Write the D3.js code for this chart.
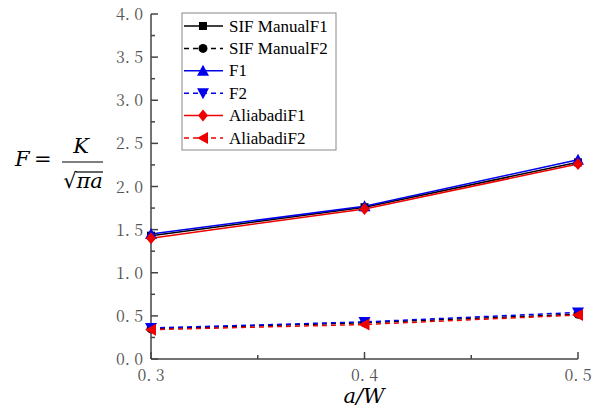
<!DOCTYPE html>
<html><head><meta charset="utf-8">
<script src="https://cdn.jsdelivr.net/npm/d3@7"></script>
<style>body{margin:0;background:#fff}</style>
</head><body><svg id="c" width="603" height="410"></svg>
<script>
const xValues = [0.3, 0.4, 0.5];
const sifManualF1 = [1.43, 1.76, 2.28];
const sifManualF2 = [0.35, 0.42, 0.52];
const f1 = [1.45, 1.77, 2.31];
const f2 = [0.36, 0.43, 0.54];
const aliabadiF1 = [1.40, 1.74, 2.26];
const aliabadiF2 = [0.34, 0.40, 0.51];
const seriesNames = ["SIF ManualF1","SIF ManualF2","F1","F2","AliabadiF1","AliabadiF2"];
const xTicks = [0.3, 0.4, 0.5];
const yTicks = [0.0,0.5,1.0,1.5,2.0,2.5,3.0,3.5,4.0];

const series = [
  {name:seriesNames[0], v:sifManualF1, color:"#000", dash:null, sym:"square"},
  {name:seriesNames[1], v:sifManualF2, color:"#000", dash:"5,4", sym:"circle"},
  {name:seriesNames[2], v:f1, color:"#0000ee", dash:null, sym:"up"},
  {name:seriesNames[3], v:f2, color:"#0000ee", dash:"5,4", sym:"down"},
  {name:seriesNames[4], v:aliabadiF1, color:"#ee0000", dash:null, sym:"diamond"},
  {name:seriesNames[5], v:aliabadiF2, color:"#ee0000", dash:"5,4", sym:"left"}
];

const TICKFONT = "Noto Serif CJK SC";
const LEGFONT = "Liberation Serif";
const MATHFONT = "DejaVu Serif";

const svg = d3.select("#c");
const x = d3.scaleLinear().domain([0.3,0.5]).range([151,578]);
const y = d3.scaleLinear().domain([0,4]).range([359,14]);

function marker(g, sym, cx, cy, color){
  const s = 5;
  let el;
  if(sym==="square") el = g.append("rect").attr("x",cx-4).attr("y",cy-4).attr("width",8).attr("height",8);
  else if(sym==="circle") el = g.append("circle").attr("cx",cx).attr("cy",cy).attr("r",4.5);
  else {
    let pts;
    if(sym==="up") pts=[[0,-s-1],[s+1,s],[-s-1,s]];
    if(sym==="down") pts=[[0,s+1],[s+1,-s],[-s-1,-s]];
    if(sym==="diamond") pts=[[0,-s-1],[s,0],[0,s+1],[-s,0]];
    if(sym==="left") pts=[[-s-1,0],[s,-s-1],[s,s+1]];
    el = g.append("polygon").attr("points", pts.map(p=>[cx+p[0],cy+p[1]].join(",")).join(" "));
  }
  el.attr("fill",color);
}

// axes
const gx = svg.append("g").attr("transform","translate(0,359)");
gx.append("line").attr("x1",151).attr("x2",578).attr("stroke","#444").attr("stroke-width",1.5);
xTicks.forEach(t=>{
  gx.append("line").attr("x1",x(t)).attr("x2",x(t)).attr("y1",0).attr("y2",-7).attr("stroke","#444").attr("stroke-width",1.5);
  gx.append("text").attr("font-family",TICKFONT).attr("x",x(t)).attr("y",22).attr("text-anchor","middle")
    .attr("font-size",16).attr("fill","#555").text(t.toFixed(1).replace(".",". "));
});
[0.35,0.45].forEach(t=>{
  gx.append("line").attr("x1",x(t)).attr("x2",x(t)).attr("y1",0).attr("y2",-4).attr("stroke","#444").attr("stroke-width",1.5);
});
const gy = svg.append("g");
gy.append("line").attr("x1",151).attr("x2",151).attr("y1",14).attr("y2",359).attr("stroke","#444").attr("stroke-width",1.5);
yTicks.forEach(t=>{
  gy.append("line").attr("x1",151).attr("x2",158).attr("y1",y(t)).attr("y2",y(t)).attr("stroke","#444").attr("stroke-width",1.5);
  gy.append("text").attr("font-family",TICKFONT).attr("x",143).attr("y",y(t)+6).attr("text-anchor","end")
    .attr("font-size",16).attr("fill","#555").text(t.toFixed(1).replace(".",". "));
});
d3.range(0.25,4,0.5).forEach(t=>{
  gy.append("line").attr("x1",151).attr("x2",155).attr("y1",y(t)).attr("y2",y(t)).attr("stroke","#444").attr("stroke-width",1.5);
});

// lines
const line = d3.line().x((d,i)=>x(xValues[i])).y(d=>y(d));
series.forEach(s=>{
  svg.append("path").attr("d",line(s.v)).attr("fill","none").attr("stroke",s.color).attr("stroke-width",1.5)
    .attr("stroke-dasharray",s.dash);
});
series.forEach(s=>{
  const g = svg.append("g");
  s.v.forEach((v,i)=>marker(g,s.sym,x(xValues[i]),y(v),s.color));
});

// legend
const lg = svg.append("g");
lg.append("rect").attr("x",182).attr("y",13).attr("width",154).attr("height",137).attr("fill","#fff").attr("stroke","#888").attr("stroke-width",1);
series.forEach((s,i)=>{
  const cy = 26 + i*22.4;
  lg.append("line").attr("x1",184).attr("x2",223).attr("y1",cy).attr("y2",cy).attr("stroke",s.color).attr("stroke-width",1.5).attr("stroke-dasharray",s.dash);
  marker(lg,s.sym,203,cy,s.color);
  lg.append("text").attr("font-family",LEGFONT).attr("x",229).attr("y",cy+5.5).attr("font-size",17).attr("fill","#000").text(s.name);
});

// axis titles
const yl = svg.append("g").attr("font-family",MATHFONT).attr("fill","#000").attr("font-style","italic").attr("font-size",21);
yl.append("text").attr("x",15).attr("y",166).text("F");
yl.append("text").attr("x",34).attr("y",166).attr("font-style","normal").text("=");
yl.append("text").attr("x",81).attr("y",153).attr("text-anchor","middle").text("K");
yl.append("line").attr("x1",62).attr("x2",103).attr("y1",162).attr("y2",162).attr("stroke","#000").attr("stroke-width",1.2);
yl.append("text").attr("x",83).attr("y",188).attr("text-anchor","middle").text("\u221A\u03C0a");
yl.append("line").attr("x1",76).attr("x2",103).attr("y1",172).attr("y2",172).attr("stroke","#000").attr("stroke-width",1.2);
svg.append("text").attr("x",364).attr("y",403).attr("text-anchor","middle").attr("font-family",MATHFONT)
  .attr("font-style","italic").attr("font-size",21).attr("fill","#000").text("a/W");
</script></body></html>
